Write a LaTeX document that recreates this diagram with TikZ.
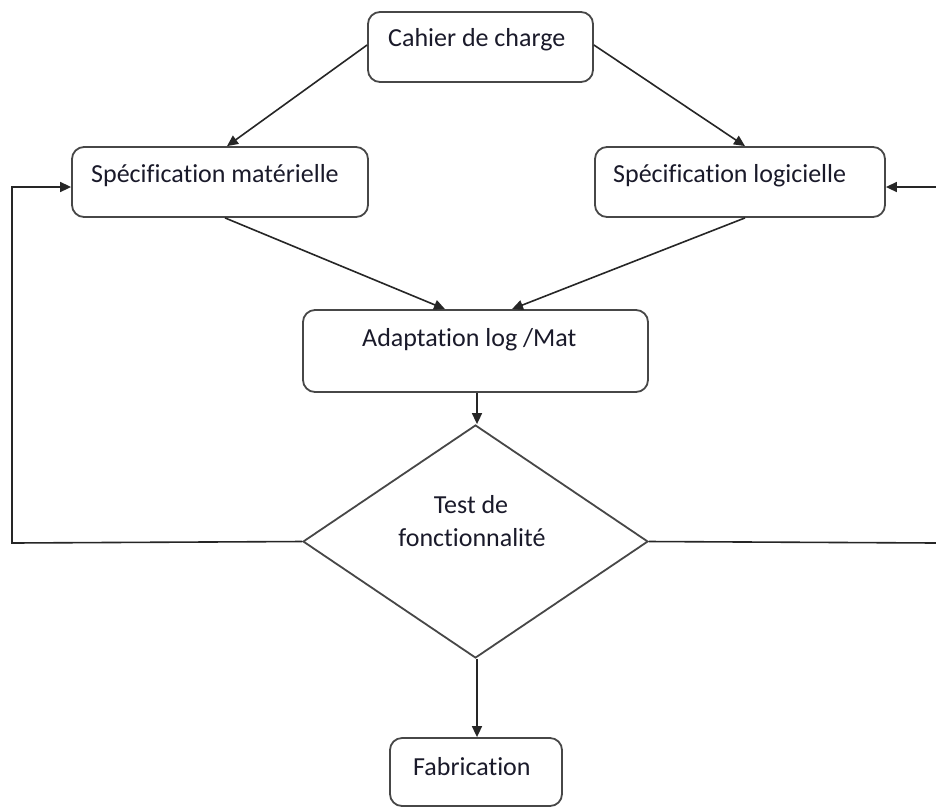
\documentclass[tikz,border=0pt]{standalone}
\usepackage{fontspec}
\setmainfont[Ligatures=NoCommon]{Carlito}
\usetikzlibrary{shapes.geometric,arrows.meta}
\definecolor{edge}{HTML}{474747}
\definecolor{ink}{HTML}{1A1A2A}
\tikzset{
  box/.style={draw=edge, line width=1.8pt, rounded corners=12pt, fill=white, inner sep=0pt},
  lbl/.style={anchor=base west, inner sep=0pt, text=ink, font=\fontsize{26}{31}\selectfont},
  conn/.style={draw=black!85, line width=1.6pt, -{Triangle[length=11pt,width=10pt]}},
  plain/.style={draw=black!85, line width=1.6pt}
}
\begin{document}
\begin{tikzpicture}[x=1pt,y=-1pt]
\useasboundingbox (0,0) rectangle (936,807);
\fill[white] (0,0) rectangle (936,807);

% boxes
\node[box, minimum width=225pt, minimum height=70pt] (cdc) at (480.5,47) {};
\node[box, minimum width=296pt, minimum height=70pt] (smat) at (220,182) {};
\node[box, minimum width=290pt, minimum height=70pt] (slog) at (740,182) {};
\node[box, minimum width=345pt, minimum height=82pt] (adapt) at (475.5,351) {};
\node[draw=edge, line width=1.8pt, diamond, fill=white, inner sep=0pt,
      minimum width=345pt, minimum height=233pt] (test) at (475.5,541.5) {};
\node[box, minimum width=172pt, minimum height=68pt] (fab) at (476,772) {};

% labels
\node[lbl] (tcdc) at (388,46) {Cahier de charge};
\node[lbl] (tsmat) at (91,182) {Spécification matérielle};
\node[lbl] (tslog) at (613,182) {Spécification logicielle};
\node[lbl] (tadapt) at (362,346) {Adaptation log /Mat};
\node[lbl, anchor=base] (ttest1) at (471,513) {Test de};
\node[lbl, anchor=base] (ttest2) at (472,546) {fonctionnalité};
\node[lbl] (tfab) at (413,775) {Fabrication};

% connectors
\coordinate (l1) at (12,543);
\coordinate (l2) at (12,187);
\coordinate (r1) at (937,543);
\coordinate (r2) at (937,187);

\draw[conn] (cdc.west |- 0,45) -- (smat.north -| 227,0);
\draw[conn] (cdc.east |- 0,45) -- (slog.north -| 745,0);
\draw[conn] (smat.south -| 225,0) -- (adapt.north -| 445,0);
\draw[conn] (slog.south -| 745,0) -- (adapt.north -| 512,0);
\draw[conn] (adapt.south -| 477,0) -- (test.north -| 477,0);
\draw[conn] (test.south -| 477,0) -- (fab.north -| 477,0);
\draw[conn] (test.west) -- (l1) -- (l2) -- (smat.west |- l2);
\draw[conn] (test.east) -- (r1) -- (r2) -- (slog.east |- r2);
\end{tikzpicture}
\end{document}
